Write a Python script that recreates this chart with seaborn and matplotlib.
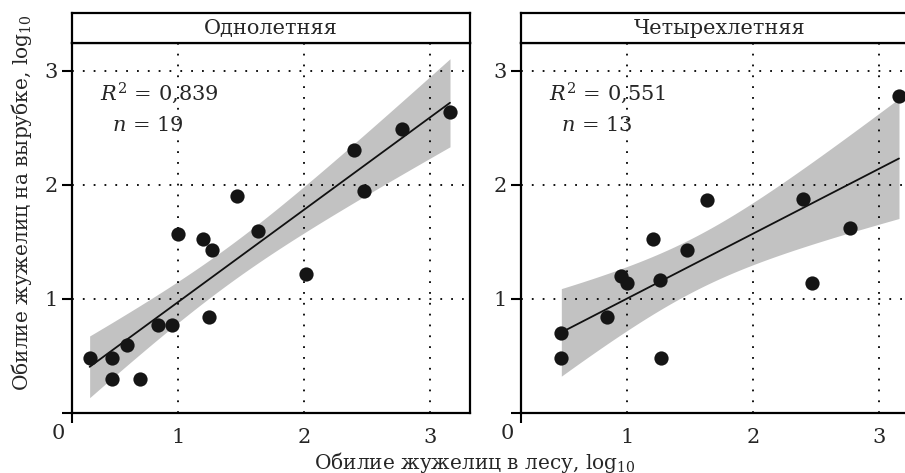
import math
import numpy as np
import pandas as pd
import matplotlib
matplotlib.use("Agg")
import matplotlib.pyplot as plt
import seaborn as sns

# panel titles and annotation labels
panels = ["Однолетняя", "Четырехлетняя"]
r2_labels = ["0,839", "0,551"]
n_labels = ["19", "13"]

# log10 abundance: forest (x) vs clearing (y), one-year clearing
x_one = [0.30, 0.48, 0.48, 0.60, 0.70, 0.84, 0.95, 1.00, 1.20, 1.25,
         1.27, 1.47, 1.64, 2.02, 2.40, 2.48, 2.78, 3.16]
y_one = [0.48, 0.48, 0.30, 0.60, 0.30, 0.77, 0.77, 1.57, 1.53, 0.84,
         1.43, 1.90, 1.60, 1.22, 2.31, 1.95, 2.49, 2.64]

# four-year clearing
x_four = [0.48, 0.48, 0.84, 0.95, 1.00, 1.21, 1.26, 1.27, 1.48, 1.64,
          2.40, 2.47, 2.77, 3.16]
y_four = [0.70, 0.48, 0.84, 1.20, 1.14, 1.53, 1.17, 0.48, 1.43, 1.87,
          1.88, 1.14, 1.62, 2.78]

grid_ticks = [1, 2, 3]


def t_quantile(p, dof):
    # Student t quantile by bisection on a numerically integrated cdf
    c = math.gamma((dof + 1) / 2) / (math.sqrt(dof * math.pi) * math.gamma(dof / 2))
    def cdf(t):
        xs = np.linspace(0, t, 2001)
        ys = c * (1 + xs ** 2 / dof) ** (-(dof + 1) / 2)
        return 0.5 + np.trapezoid(ys, xs)
    lo, hi = 0.0, 10.0
    for _ in range(60):
        mid = (lo + hi) / 2
        if cdf(mid) < p:
            lo = mid
        else:
            hi = mid
    return (lo + hi) / 2


def conf_band(x, y, grid):
    x = np.asarray(x)
    y = np.asarray(y)
    n = len(x)
    b, a = np.polyfit(x, y, 1)
    resid = y - (a + b * x)
    s = np.sqrt(np.sum(resid ** 2) / (n - 2))
    sxx = np.sum((x - x.mean()) ** 2)
    se = s * np.sqrt(1 / n + (grid - x.mean()) ** 2 / sxx)
    t = t_quantile(0.975, n - 2)
    fit = a + b * grid
    return fit - t * se, fit + t * se


sns.set_style("white")
plt.rcParams['font.family'] = ['DejaVu Serif']
plt.rcParams['mathtext.fontset'] = 'dejavuserif'

df = pd.concat([
    pd.DataFrame({'forest': x_one, 'clear': y_one, 'panel': panels[0]}),
    pd.DataFrame({'forest': x_four, 'clear': y_four, 'panel': panels[1]}),
])

fig = plt.figure(figsize=(9.05, 4.73), dpi=100)
W, H = 905, 473
ax_w, ax_top, ax_bot = 398, 43, 413
lefts = [72, 521]
xlim = (0.16, 0.16 + 398 / 126)
ylim = (0, 370 / 114)

for i, name in enumerate(panels):
    ax = fig.add_axes([lefts[i] / W, (H - ax_bot) / H, ax_w / W, (ax_bot - ax_top) / H])
    sub = df[df['panel'] == name]
    sns.regplot(data=sub, x='forest', y='clear', ax=ax, ci=None,
                scatter_kws=dict(s=105, color='#151515', alpha=1, linewidths=0, zorder=4),
                line_kws=dict(color='#111111', lw=1.3, zorder=3))
    grid = np.linspace(sub['forest'].min(), sub['forest'].max(), 100)
    lo, hi = conf_band(sub['forest'], sub['clear'], grid)
    ax.fill_between(grid, lo, hi, color='#c2c2c2', lw=0, zorder=1)

    ax.set_xlim(*xlim)
    ax.set_ylim(*ylim)
    ax.set_xlabel('')
    ax.set_ylabel('')

    # dotted grid at 1,2,3 drawn over the band
    ax.set_xticks(grid_ticks)
    ax.set_xticklabels([str(t) for t in grid_ticks])
    ax.set_yticks(grid_ticks)
    ax.set_yticklabels([str(t) for t in grid_ticks])
    ax.set_xticks([xlim[0]], minor=True)
    ax.set_yticks([0], minor=True)
    ax.grid(True, which='major', color='black', lw=1.3, linestyle=(0, (1, 5)))
    ax.set_axisbelow(False)
    for gl in ax.get_xgridlines() + ax.get_ygridlines():
        gl.set_zorder(2)
    ax.tick_params(axis='both', which='both', direction='out', color='black',
                   bottom=True, left=True)
    ax.tick_params(axis='x', which='major', length=0, labelsize=15, pad=11)
    ax.tick_params(axis='y', which='major', length=7, width=1.5, labelsize=15, pad=3)
    ax.tick_params(which='minor', length=7, width=1.5)
    for sp in ax.spines.values():
        sp.set_color('black')
        sp.set_linewidth(1.6)

    ax.annotate("0", xy=(0, 0), xycoords='axes fraction', xytext=(-10, -14.5),
                textcoords='offset points', ha='center', va='center', fontsize=15)

    ax.text(0.38, 2.80, r"$R^2$ = " + r2_labels[i], fontsize=15, ha='left', va='center')
    ax.text(0.476, 2.52, r"$n$ = " + n_labels[i], fontsize=15, ha='left', va='center')

    # strip header
    sax = fig.add_axes([lefts[i] / W, (H - ax_top) / H, ax_w / W, 30 / H])
    sax.set_xticks([])
    sax.set_yticks([])
    for sp in sax.spines.values():
        sp.set_color('black')
        sp.set_linewidth(1.6)
    sax.text(0.5, 0.48, name, transform=sax.transAxes,
             ha='center', va='center', fontsize=15)

fig.text(475 / W, (H - 462) / H, "Обилие жужелиц в лесу, log$_{10}$",
         ha='center', va='center', fontsize=14.5)
fig.text(22 / W, (H - 203) / H, "Обилие жужелиц на вырубке, log$_{10}$",
         ha='center', va='center', rotation=90, fontsize=14.5)

fig.savefig("out.png", dpi=100)
plt.close()
